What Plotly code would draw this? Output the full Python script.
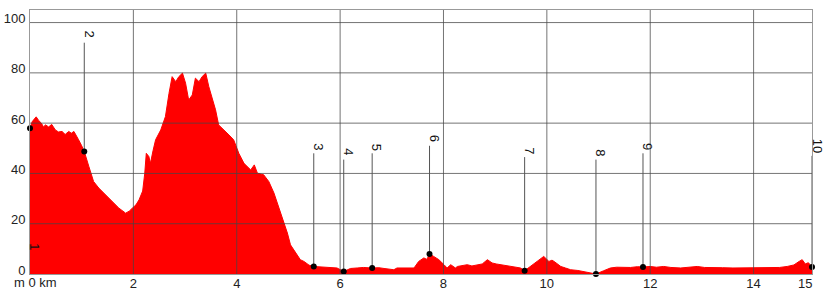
import plotly.graph_objects as go

# ---- elevation profile (km, m) ----
dist_km = [0.00, 0.04, 0.07, 0.12, 0.17, 0.22, 0.26, 0.30, 0.36, 0.42, 0.49, 0.55, 0.62, 0.68,
           0.75, 0.80, 0.85, 0.90, 0.94, 1.00, 1.05, 1.14, 1.23, 1.33, 1.46, 1.59, 1.72, 1.85,
           1.92, 1.98, 2.05, 2.11, 2.18, 2.22, 2.25, 2.30, 2.33, 2.38, 2.43, 2.53, 2.62, 2.69,
           2.75, 2.82, 2.88, 2.95, 3.01, 3.07, 3.14, 3.20, 3.27, 3.33, 3.40, 3.46, 3.53, 3.59,
           3.65, 3.72, 3.85, 3.94, 4.04, 4.14, 4.27, 4.34, 4.40, 4.52, 4.62, 4.72, 4.85, 4.98,
           5.04, 5.10, 5.17, 5.23, 5.30, 5.40, 5.49, 5.60, 5.69, 5.80, 5.94, 6.07, 6.20, 6.33,
           6.45, 6.62, 6.75, 6.85, 7.04, 7.10, 7.25, 7.43, 7.52, 7.62, 7.68, 7.73, 7.81, 7.86,
           7.91, 8.01, 8.07, 8.14, 8.23, 8.27, 8.35, 8.46, 8.55, 8.65, 8.75, 8.85, 8.94, 9.02,
           9.10, 9.20, 9.30, 9.40, 9.49, 9.57, 9.68, 9.75, 9.81, 9.88, 9.94, 10.04, 10.10, 10.14,
           10.20, 10.27, 10.36, 10.46, 10.60, 10.72, 10.85, 10.95, 11.10, 11.23, 11.35, 11.50,
           11.62, 11.75, 11.86, 12.00, 12.12, 12.26, 12.40, 12.59, 12.75, 12.91, 13.05, 13.23,
           13.40, 13.60, 13.88, 14.10, 14.33, 14.50, 14.65, 14.78, 14.88, 14.94, 15.00, 15.06,
           15.13]
elev_m = [58.0, 60.5, 61.3, 62.5, 61.0, 60.0, 58.5, 59.3, 58.5, 59.5, 57.3, 56.5, 56.7, 55.5,
          56.7, 56.0, 56.7, 55.0, 53.4, 51.0, 48.7, 42.7, 36.8, 34.2, 31.5, 28.8, 26.2, 24.2,
          25.0, 26.2, 27.5, 29.5, 33.0, 40.0, 48.0, 46.7, 44.0, 49.0, 53.4, 57.3, 62.6, 71.9,
          78.5, 76.5, 78.5, 79.9, 75.9, 69.2, 71.2, 77.9, 76.5, 78.5, 79.9, 74.5, 69.2, 65.3,
          59.3, 58.0, 55.3, 53.4, 48.0, 44.0, 41.4, 43.4, 40.1, 39.5, 36.8, 32.2, 24.2, 16.3,
          11.6, 9.7, 7.7, 5.7, 5.0, 3.5, 3.0, 2.9, 2.8, 2.6, 2.4, 1.0, 2.2, 2.4,
          2.6, 2.4, 2.5, 2.2, 1.7, 2.4, 2.3, 2.4, 5.0, 6.4, 5.8, 8.0, 7.0, 6.2,
          5.7, 3.7, 2.4, 3.7, 2.4, 3.0, 3.4, 3.7, 3.2, 3.7, 4.0, 5.7, 4.4, 4.0,
          3.7, 3.4, 3.0, 2.8, 2.4, 1.3, 3.0, 4.0, 5.0, 6.0, 7.0, 5.0, 5.5, 5.0,
          4.0, 3.0, 2.4, 1.7, 1.4, 1.0, 0.6, 0.0, 1.3, 2.4, 2.7, 2.6,
          2.6, 2.9, 2.8, 3.0, 2.7, 3.0, 2.6, 2.4, 2.7, 3.0, 2.6, 2.4,
          2.5, 2.4, 2.4, 2.5, 2.4, 2.6, 3.0, 3.6, 5.0, 5.7, 4.0, 4.5,
          2.8]

# ---- waypoints ----
wp_names = ["1", "2", "3", "4", "5", "6", "7", "8", "9", "10"]
wp_km = [0.0, 1.05, 5.49, 6.07, 6.62, 7.73, 9.57, 10.95, 11.86, 15.13]
wp_elev = [58.0, 48.7, 3.0, 1.0, 2.4, 8.0, 1.3, 0.0, 2.8, 2.8]
wp_line_top = [58.0, 92.0, 48.0, 45.5, 48.0, 51.0, 46.5, 45.5, 48.0, 47.0]
wp_label_y = [11.0, 95.5, 50.5, 48.5, 50.5, 54.0, 49.0, 48.0, 50.5, 51.0]

# ---- axes ----
x_tickvals = [2, 4, 6, 8, 10, 12, 14, 15]
x_ticktext = ["2", "4", "6", "8", "10", "12", "14", "15"]
x_grid = [2, 4, 6, 8, 10, 12, 14]
y_tickvals = [0, 20, 40, 60, 80, 100]
x_range = [0, 15.13]
y_range = [0, 105]

FONT = "Liberation Sans, Arial, sans-serif"

fig = go.Figure()

fig.add_trace(go.Scatter(
    x=dist_km, y=elev_m, mode="lines", fill="tozeroy",
    line=dict(color="#ff0000", width=1), fillcolor="#ff0000",
    hoverinfo="skip", showlegend=False))

# grid lines drawn above the profile
gx, gy = [], []
for v in x_grid:
    gx += [v, v, None]
    gy += [y_range[0], y_range[1], None]
for v in y_tickvals[1:]:
    gx += [x_range[0], x_range[1], None]
    gy += [v, v, None]
fig.add_trace(go.Scatter(x=gx, y=gy, mode="lines",
                         line=dict(color="rgba(70,70,70,0.75)", width=1),
                         hoverinfo="skip", showlegend=False))

# waypoint stems
sx, sy = [], []
for k, e, t in zip(wp_km, wp_elev, wp_line_top):
    sx += [k, k, None]
    sy += [e, t, None]
fig.add_trace(go.Scatter(x=sx, y=sy, mode="lines",
                         line=dict(color="#555555", width=1),
                         hoverinfo="skip", showlegend=False))
fig.add_trace(go.Scatter(x=wp_km, y=wp_elev, mode="markers",
                         marker=dict(color="black", size=6),
                         hoverinfo="skip", showlegend=False, cliponaxis=False))

for n, k, ly in zip(wp_names, wp_km, wp_label_y):
    fig.add_annotation(x=k, y=ly, text=n, textangle=90, showarrow=False,
                       xanchor="center", yanchor="middle", xshift=5,
                       font=dict(family=FONT, size=13, color="#111111"))

fig.add_annotation(x=0, y=0, xref="paper", yref="paper", text="m 0 km",
                   showarrow=False, xanchor="left", yanchor="top",
                   xshift=-18, yshift=1,
                   font=dict(family=FONT, size=13, color="#222222"))

fig.update_xaxes(range=x_range, tickvals=x_tickvals, ticktext=x_ticktext,
                 showgrid=False, zeroline=False, ticks="", automargin=False,
                 showline=True, mirror=True, linecolor="#999999", linewidth=1,
                 ticklabelstandoff=-3,
                 tickfont=dict(family=FONT, size=13, color="#222222"))
fig.update_yaxes(range=y_range, tickvals=y_tickvals,
                 showgrid=False, zeroline=False, ticks="", automargin=False,
                 showline=True, mirror=True, linecolor="#999999", linewidth=1,
                 ticklabelshift=-4, ticklabelstandoff=1,
                 tickfont=dict(family=FONT, size=13, color="#222222"))

fig.update_layout(width=823, height=289, margin=dict(l=30, r=11, t=10, b=15),
                  plot_bgcolor="white", paper_bgcolor="white", showlegend=False)

fig.write_html("out.html", config={"displayModeBar": False},
               post_script="document.body.style.margin='0';"
                           "document.body.style.overflow='hidden';")
